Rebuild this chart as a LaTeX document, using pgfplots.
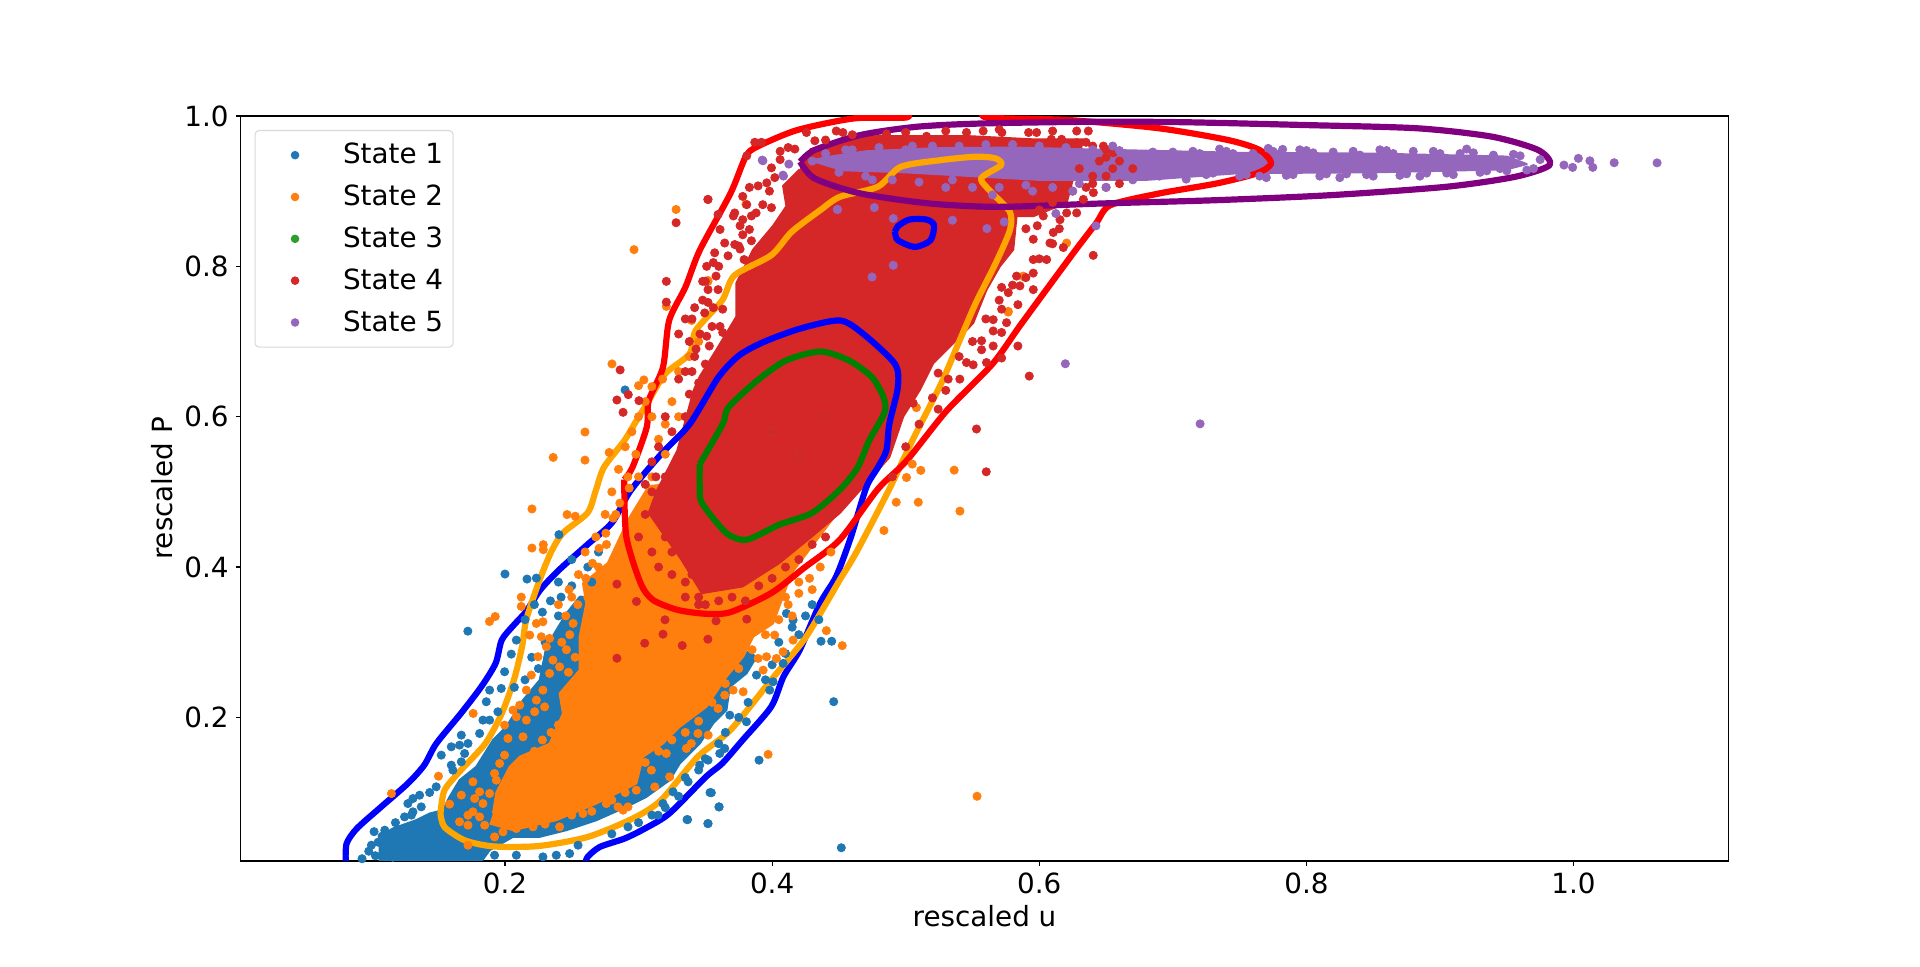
\documentclass[border=0pt]{standalone}
\usepackage{fontspec}
\setmainfont{DejaVu Sans}
\usepackage{pgfplots}
\pgfplotsset{compat=1.18}
\definecolor{st1}{HTML}{1F77B4}
\definecolor{st2}{HTML}{FF7F0E}
\definecolor{st3}{HTML}{2CA02C}
\definecolor{st4}{HTML}{D62728}
\definecolor{st5}{HTML}{9467BD}
\definecolor{cpurple}{HTML}{800080}
\definecolor{corange}{HTML}{FFA500}
\definecolor{cgreen}{HTML}{008000}
\pgfplotsset{
  pts/.style={only marks,mark=*,mark size=2.05pt,color=#1,mark options={fill=#1,draw=#1}},
  blob/.style={forget plot,no markers,draw=#1,fill=#1,line width=1pt,line join=round},
  cont/.style={forget plot,no markers,color=#1,line width=3.1pt,line join=round,smooth,tension=0.45},
}
\begin{document}
\begin{tikzpicture}
\path[use as bounding box] (0,0) rectangle (960pt,483.5pt);
\begin{axis}[
    at={(120.25pt,53pt)},
    anchor=south west,
    scale only axis,
    width=744pt,
    height=372.5pt,
    xmin=0.002, xmax=1.116,
    ymin=0.009, ymax=1.0,
    xtick={0.2,0.4,0.6,0.8,1.0},
    ytick={0.2,0.4,0.6,0.8,1.0},
    tick pos=left,
    tick align=outside,
    major tick length=2.4pt,
    every tick/.style={black,line width=0.55pt},
    axis line style={line width=0.55pt},
    /pgf/number format/assume math mode=true,
    /pgf/number format/fixed,
    /pgf/number format/fixed zerofill,
    /pgf/number format/precision=1,
    tick label style={font=\fontsize{13.9}{16}\selectfont},
    xlabel={rescaled u},
    ylabel={rescaled P},
    label style={font=\fontsize{13.9}{16}\selectfont},
    xlabel style={yshift=1pt},
    ylabel style={yshift=-1pt},
    legend cell align=left,
    legend style={at={(7pt,367pt)},anchor=north west,draw=black!15,
      line width=0.55pt,rounded corners=2pt,inner xsep=3pt,inner ysep=4.4pt,
      row sep=5.1pt,font=\fontsize{13.9}{16}\selectfont},
    legend image code/.code={\path[draw=none,fill=none] (-2pt,0pt) rectangle (37pt,0pt);
      \path[#1,rounded corners=0pt,mark size=1.85pt] plot coordinates {(15pt,0pt)};},
]
% scatter, one series per state
\addplot[blob=st1] coordinates {
(0.1061,0.005)(0.1061,0.041)(0.116,0.0522)(0.1336,0.0633)(0.1436,0.0721)(0.1535,0.0766)(0.1585,0.0943)(0.166,0.1165)(0.1785,0.1343)(0.191,0.1697)(0.201,0.1875)(0.2135,0.223)(0.226,0.2496)(0.231,0.294)(0.246,0.3383)(0.256,0.3605)(0.3,0.36)(0.3883,0.2807)(0.3808,0.2585)(0.3683,0.2407)(0.3658,0.2097)(0.3558,0.1919)(0.3458,0.1653)(0.3308,0.1387)(0.3233,0.1165)(0.3058,0.0943)(0.2909,0.081)(0.2684,0.0633)(0.246,0.05)(0.2259,0.0411)(0.206,0.0411)(0.1885,0.0234)(0.181,0.005)
};
\addplot[pts=st1] coordinates {
(0.1722,0.3147)(0.2,0.3907)(0.2165,0.384)(0.2235,0.3853)(0.2404,0.4431)(0.4461,0.2209)(0.3902,0.1431)(0.3519,0.0587)(0.3367,0.064)(0.3602,0.0809)(0.3535,0.1)(0.4366,0.3013)(0.4446,0.3013)(0.2899,0.6356)(0.4518,0.0266)
(0.093,0.012)(0.098,0.022)(0.103,0.016)(0.105,0.034)(0.108,0.042)(0.112,0.028)(0.116,0.014)(0.118,0.06)(0.124,0.05)(0.11,0.05)(0.102,0.048)(0.1,0.03)(0.12,0.025)(0.13,0.07)
(0.2085,0.3028)(0.2047,0.2842)(0.1997,0.2607)(0.1972,0.2385)(0.1885,0.2363)(0.186,0.2208)(0.1947,0.2075)(0.1885,0.1964)(0.1835,0.1964)(0.181,0.1786)(0.1673,0.1764)(0.1723,0.1653)(0.166,0.1631)(0.1598,0.1609)(0.1698,0.152)(0.1523,0.1498)(0.1673,0.1409)(0.1598,0.1365)(0.161,0.1298)(0.1485,0.1077)(0.1436,0.1001)(0.1361,0.0965)(0.1311,0.0921)(0.1273,0.0854)(0.1373,0.081)(0.1311,0.0744)(0.1248,0.0677)
(0.3545,0.0998)(0.3603,0.081)(0.3363,0.0641)(0.352,0.0588)(0.3608,0.152)(0.3645,0.1587)(0.352,0.1431)(0.3458,0.1365)(0.3371,0.1143)(0.3258,0.101)(0.3183,0.0854)(0.3146,0.0699)(0.2921,0.0544)(0.2547,0.03)(0.2484,0.0189)(0.2384,0.0167)(0.2284,0.0145)(0.2085,0.0167)(0.1922,0.0167)
(0.3808,0.1942)(0.3683,0.203)(0.3982,0.2363)(0.3883,0.2563)(0.4007,0.2474)(0.4082,0.2718)(0.4107,0.3383)(0.4157,0.3295)
(0.215,0.33)(0.222,0.35)(0.228,0.34)(0.234,0.355)(0.242,0.36)(0.25,0.375)(0.24,0.335)(0.23,0.30)(0.22,0.28)(0.215,0.25)(0.207,0.24)(0.225,0.265)(0.24,0.38)(0.262,0.40)(0.265,0.38)(0.25,0.41)(0.27,0.42)
(0.405,0.30)(0.41,0.285)(0.415,0.32)(0.42,0.31)(0.425,0.335)(0.43,0.35)(0.435,0.33)(0.4,0.27)(0.395,0.25)(0.382,0.22)(0.375,0.2)(0.365,0.18)(0.36,0.165)(0.35,0.145)(0.345,0.13)(0.335,0.12)(0.33,0.095)(0.32,0.08)(0.31,0.07)(0.3,0.06)(0.28,0.045)
};
\addlegendentry{State 1}
\addplot[blob=st2] coordinates {
(0.191,0.0721)(0.1935,0.1)(0.2035,0.1343)(0.211,0.1476)(0.2334,0.165)(0.2434,0.2052)(0.2409,0.2319)(0.2559,0.2629)(0.2559,0.3073)(0.2609,0.3516)(0.2584,0.3783)(0.277,0.4053)(0.2923,0.4631)(0.3076,0.5076)(0.3535,0.5164)(0.4299,0.4498)(0.4507,0.4764)(0.4146,0.392)(0.4007,0.325)(0.3858,0.3073)(0.3783,0.2807)(0.3658,0.254)(0.3508,0.2141)(0.3308,0.1875)(0.3183,0.1653)(0.3033,0.1476)(0.2983,0.1121)(0.2684,0.0854)(0.2384,0.0633)(0.206,0.05)(0.1885,0.0588)
};
\addplot[pts=st2] coordinates {
(0.3281,0.8756)(0.2966,0.8222)(0.2801,0.6702)(0.2599,0.5796)(0.2361,0.5458)(0.2599,0.5422)(0.278,0.5524)(0.3,0.6413)(0.304,0.6489)(0.3804,0.8827)(0.3519,0.7813)(0.3208,0.7467)(0.3397,0.728)
(0.2202,0.4773)(0.2202,0.4253)(0.2287,0.4298)(0.2287,0.4231)(0.1884,0.3276)(0.1927,0.3342)(0.2122,0.36)(0.2122,0.3476)(0.1762,0.2053)(0.1502,0.1218)(0.115,0.0987)(0.2465,0.4698)(0.2526,0.4676)(0.397,0.1508)
(0.5363,0.5289)(0.5767,0.7391)(0.5887,0.7858)(0.5049,0.5369)(0.5006,0.5191)(0.5534,0.0951)(0.5113,0.5286)(0.5406,0.4744)(0.5094,0.4862)(0.4929,0.4862)(0.4837,0.4486)(0.4525,0.2955)(0.4406,0.3154)
(0.6205,0.831)(0.5768,0.74)(0.588,0.787)(0.508,0.612)(0.352,0.78)
(0.2235,0.325)(0.2284,0.3272)(0.2185,0.3095)(0.2272,0.3073)(0.2334,0.3051)(0.231,0.294)(0.2247,0.2807)(0.2359,0.2762)(0.2409,0.2673)(0.2334,0.2585)(0.2197,0.2563)(0.2284,0.2363)(0.216,0.2363)(0.2235,0.223)(0.211,0.2163)(0.206,0.2097)(0.2085,0.2008)(0.216,0.1964)(0.2222,0.2075)(0.2297,0.2141)(0.1997,0.1897)(0.2022,0.172)(0.2135,0.1742)(0.1997,0.1498)(0.196,0.1387)(0.1922,0.1254)(0.1935,0.1165)(0.176,0.1143)(0.181,0.101)(0.1885,0.0988)(0.1673,0.0966)(0.1773,0.0921)(0.1585,0.0846)(0.1835,0.0854)(0.176,0.0744)(0.181,0.0677)(0.1723,0.0699)(0.166,0.0611)(0.1723,0.0566)(0.1848,0.0566)(0.1922,0.0411)(0.1985,0.0477)(0.1723,0.03)(0.2085,0.0522)(0.221,0.0544)(0.2409,0.0544)(0.2584,0.0721)(0.2759,0.0854)(0.2846,0.081)(0.2921,0.081)(0.2884,0.0766)(0.2983,0.1032)(0.3121,0.1076)(0.3096,0.1298)(0.3233,0.1209)(0.3208,0.152)(0.3358,0.1587)(0.3395,0.1653)(0.3445,0.1786)(0.3521,0.1764)(0.3595,0.2119)(0.3645,0.2296)(0.3708,0.2363)(0.3783,0.2341)(0.3933,0.2629)(0.3895,0.2784)(0.3958,0.2807)(0.4032,0.2784)(0.4082,0.2873)(0.4157,0.3028)(0.4019,0.3095)
(0.24,0.35)(0.248,0.37)(0.255,0.39)(0.26,0.42)(0.268,0.44)(0.275,0.47)(0.28,0.5)(0.285,0.53)(0.29,0.56)(0.295,0.58)(0.3,0.6)(0.305,0.62)(0.31,0.6)(0.298,0.55)(0.292,0.52)(0.283,0.47)(0.276,0.43)(0.27,0.4)(0.262,0.36)(0.415,0.335)(0.42,0.38)(0.43,0.37)(0.41,0.36)(0.31,0.64)(0.318,0.65)(0.325,0.62)(0.33,0.66)(0.338,0.68)(0.345,0.70)(0.33,0.6)(0.32,0.59)(0.315,0.57)(0.3,0.52)(0.31,0.52)(0.32,0.55)
(0.2475,0.19)(0.2525,0.205)(0.2455,0.225)(0.2515,0.245)(0.2475,0.26)(0.2525,0.28)(0.246,0.29)(0.2485,0.31)(0.2425,0.30)(0.251,0.325)(0.2455,0.335)(0.2545,0.35)(0.25,0.36)(0.2605,0.385)(0.2655,0.405)(0.2705,0.425)(0.2755,0.445)(0.281,0.465)(0.286,0.485)(0.293,0.505)(0.24,0.19)(0.2345,0.18)(0.228,0.17)(0.222,0.155)(0.215,0.14)(0.207,0.12)(0.2,0.10)(0.195,0.085)(0.2,0.065)(0.215,0.06)(0.23,0.058)(0.25,0.07)(0.265,0.075)(0.28,0.09)(0.29,0.10)(0.295,0.125)(0.305,0.14)(0.315,0.155)(0.325,0.17)(0.335,0.18)(0.345,0.195)(0.355,0.22)(0.365,0.245)(0.375,0.265)(0.385,0.29)(0.395,0.31)(0.405,0.33)(0.412,0.35)(0.42,0.365)(0.428,0.385)(0.436,0.4)(0.444,0.42)
};
\addlegendentry{State 2}
\addplot[pts=st3] coordinates {(0.42,0.55)(0.40,0.58)(0.44,0.60)};
\addlegendentry{State 3}
\addplot[blob=st4] coordinates {
(0.4207,0.929)(0.4082,0.907)(0.4107,0.88)(0.4007,0.8538)(0.3858,0.8222)(0.3733,0.7778)(0.3733,0.7333)(0.3583,0.689)(0.3458,0.6533)(0.3412,0.6347)(0.329,0.5547)(0.3137,0.5013)(0.3076,0.472)(0.3321,0.4098)(0.3474,0.3653)(0.3779,0.3742)(0.4054,0.4053)(0.4299,0.4409)(0.4507,0.472)(0.4877,0.5458)(0.4981,0.6)(0.5106,0.6356)(0.5206,0.6711)(0.5356,0.6978)(0.5505,0.7244)(0.5605,0.7689)(0.5705,0.8)(0.5805,0.8222)(0.583,0.8667)(0.5955,0.8667)(0.6205,0.8844)(0.633,0.9689)(0.5955,0.9689)(0.5455,0.9733)(0.4706,0.9733)(0.4282,0.9556)
};
\addplot[pts=st4] coordinates {
(0.42,0.55)(0.40,0.58)(0.44,0.60)
(0.3281,0.858)(0.3519,0.8889)(0.3208,0.78)(0.3208,0.7524)(0.2862,0.6622)(0.2923,0.6293)(0.2838,0.6222)(0.2884,0.6058)(0.3003,0.6213)
(0.352,0.889)(0.372,0.871)(0.3595,0.869)(0.381,0.882)(0.387,0.965)(0.392,0.965)(0.381,0.947)(0.383,0.905)(0.378,0.893)(0.3995,0.931)(0.406,0.953)(0.412,0.958)(0.406,0.942)(0.417,0.956)(0.402,0.918)(0.396,0.911)(0.3895,0.907)(0.398,0.9)(0.393,0.882)(0.388,0.871)(0.3995,0.878)(0.383,0.849)(0.376,0.854)(0.378,0.842)(0.371,0.867)(0.361,0.849)(0.3645,0.831)(0.357,0.818)(0.356,0.805)(0.351,0.8)(0.372,0.829)(0.367,0.814)(0.375,0.827)(0.348,0.78)(0.358,0.787)(0.352,0.769)(0.3595,0.769)(0.352,0.752)(0.356,0.745)(0.3495,0.738)(0.363,0.743)(0.355,0.72)(0.361,0.72)(0.351,0.707)(0.353,0.694)(0.363,0.712)(0.3845,0.867)(0.378,0.862)(0.376,0.823)(0.3845,0.834)(0.379,0.809)
(0.33,0.71)(0.335,0.73)(0.338,0.70)(0.342,0.745)(0.346,0.71)(0.342,0.68)(0.335,0.66)(0.33,0.65)(0.338,0.63)(0.32,0.6)(0.315,0.56)(0.31,0.54)(0.305,0.51)(0.31,0.5)(0.315,0.48)(0.32,0.46)(0.325,0.42)(0.32,0.44)(0.33,0.44)(0.335,0.38)(0.34,0.39)(0.345,0.36)(0.35,0.35)(0.36,0.355)(0.37,0.36)(0.38,0.355)(0.39,0.375)(0.4,0.385)(0.41,0.4)(0.42,0.41)(0.43,0.43)(0.44,0.44)
(0.34,0.73)(0.348,0.755)(0.35,0.78)(0.36,0.80)(0.343,0.69)(0.35,0.67)(0.34,0.66)(0.345,0.645)(0.335,0.60)(0.325,0.58)(0.32,0.52)(0.313,0.52)(0.305,0.47)(0.3,0.44)(0.31,0.42)(0.315,0.4)(0.325,0.39)(0.335,0.36)(0.345,0.35)
(0.2838,0.2787)(0.3046,0.2987)(0.3183,0.3107)(0.3327,0.2956)(0.3519,0.304)(0.2984,0.3542)(0.3198,0.3298)(0.358,0.3284)(0.381,0.3307)(0.2838,0.3773)
(0.5955,0.836)(0.608,0.831)(0.618,0.825)(0.5985,0.854)(0.6105,0.845)(0.5955,0.809)(0.6055,0.809)(0.5955,0.791)(0.583,0.787)(0.5718,0.772)(0.5768,0.765)(0.5855,0.774)(0.5955,0.769)(0.584,0.749)(0.5718,0.743)(0.5655,0.729)(0.5755,0.725)(0.5655,0.714)(0.5718,0.712)(0.5568,0.701)(0.5568,0.689)(0.5655,0.694)(0.5455,0.672)(0.5505,0.669)(0.5605,0.672)(0.5405,0.65)(0.5243,0.658)(0.5318,0.65)(0.5243,0.61)(0.5056,0.618)(0.5718,0.678)(0.6155,0.862)(0.6205,0.871)(0.628,0.871)(0.633,0.889)(0.6405,0.898)(0.603,0.867)
(0.49,0.52)(0.5,0.56)(0.51,0.59)(0.52,0.625)(0.53,0.635)(0.54,0.68)(0.55,0.7)(0.56,0.73)(0.57,0.755)(0.58,0.775)(0.59,0.785)(0.6,0.81)(0.61,0.83)(0.615,0.85)(0.59,0.85)(0.6,0.875)(0.61,0.885)(0.625,0.9)(0.64,0.91)(0.65,0.92)
(0.584,0.694)(0.6404,0.8146)(0.5925,0.654)(0.553,0.5836)(0.5603,0.5267)
(0.4257,0.978)(0.432,0.967)(0.448,0.98)(0.453,0.978)(0.478,0.969)(0.4856,0.976)(0.5156,0.973)(0.5455,0.978)(0.558,0.98)(0.572,0.978)(0.592,0.978)(0.598,0.978)(0.628,0.98)(0.6367,0.98)(0.628,0.9645)(0.6167,0.969)(0.609,0.969)(0.648,0.96)(0.6554,0.951)
(0.44,0.968)(0.46,0.975)(0.5,0.978)(0.53,0.98)(0.57,0.982)(0.61,0.98)(0.635,0.965)(0.65,0.945)
(0.64,0.96)(0.65,0.955)(0.66,0.94)(0.67,0.93)(0.66,0.91)(0.65,0.905)(0.64,0.92)(0.63,0.93)(0.655,0.93)(0.645,0.94)(0.635,0.905)
};
\addlegendentry{State 4}
\addplot[blob=st5] coordinates {
(0.4275,0.94)(0.44,0.945)(0.47,0.953)(0.52,0.957)(0.58,0.958)(0.65,0.955)(0.75,0.951)(0.85,0.95)(0.95,0.946)(0.965,0.936)(0.95,0.929)(0.85,0.925)(0.75,0.924)(0.68,0.915)(0.6,0.915)(0.55,0.92)(0.5,0.925)(0.45,0.928)
};
\addplot[pts=st5] coordinates {
(0.7204,0.5905)(0.6195,0.6704)(0.9928,0.9347)(0.9993,0.9316)(1.0036,0.9436)(1.0122,0.9404)(1.0144,0.9316)(1.0304,0.9378)(1.0625,0.9376)
(0.4748,0.7858)(0.4907,0.8013)(0.4765,0.8782)(0.4907,0.8636)(0.449,0.8756)(0.535,0.8613)(0.5608,0.8502)(0.5737,0.8591)(0.6424,0.8538)(0.6124,0.8702)(0.3931,0.9404)(0.4081,0.9213)(0.3926,0.9413)(0.4085,0.92)(0.4125,0.936)(0.4488,0.8756)(0.7714,0.9569)(0.7822,0.9556)
(0.43,0.94)(0.44,0.95)(0.45,0.925)(0.46,0.955)(0.47,0.92)(0.48,0.958)(0.49,0.915)(0.5,0.955)(0.51,0.912)(0.52,0.96)(0.53,0.905)(0.54,0.96)(0.55,0.905)(0.56,0.962)(0.57,0.905)(0.58,0.962)(0.59,0.908)(0.6,0.96)(0.61,0.905)(0.62,0.958)(0.63,0.91)(0.64,0.955)(0.65,0.905)(0.66,0.954)(0.67,0.915)(0.68,0.948)(0.69,0.92)(0.7,0.952)(0.71,0.916)(0.72,0.95)(0.73,0.924)(0.74,0.953)(0.75,0.92)(0.76,0.95)(0.77,0.918)(0.78,0.95)(0.79,0.922)(0.8,0.954)(0.81,0.92)(0.82,0.952)(0.83,0.923)(0.84,0.948)(0.85,0.92)(0.86,0.954)(0.87,0.921)(0.88,0.953)(0.89,0.924)(0.9,0.95)(0.91,0.922)(0.92,0.956)(0.93,0.925)(0.94,0.948)(0.95,0.927)(0.96,0.947)(0.97,0.93)
(0.455,0.955)(0.475,0.915)(0.505,0.96)(0.535,0.915)(0.565,0.895)(0.595,0.9)(0.625,0.9)(0.655,0.96)(0.685,0.952)(0.705,0.925)(0.735,0.956)(0.765,0.92)(0.795,0.955)(0.825,0.918)(0.855,0.955)(0.885,0.92)(0.915,0.95)(0.945,0.93)
(0.715,0.953)(0.725,0.922)(0.745,0.95)(0.755,0.922)(0.775,0.953)(0.785,0.921)(0.805,0.951)(0.815,0.923)(0.835,0.953)(0.845,0.922)(0.865,0.95)(0.875,0.923)(0.895,0.953)(0.905,0.924)(0.925,0.951)(0.935,0.927)(0.955,0.949)(0.965,0.928)(0.975,0.942)
};
\addlegendentry{State 5}
% contours
\addplot[cont=blue] coordinates {
(0.0808,0.005)(0.0814,0.032)(0.089,0.052)(0.1058,0.0787)(0.1272,0.112)(0.1395,0.1364)(0.1486,0.1653)(0.167,0.2053)(0.1823,0.2409)(0.193,0.272)(0.1976,0.303)(0.2067,0.323)(0.2159,0.341)(0.2266,0.37)(0.2404,0.396)(0.2618,0.43)(0.2801,0.459)(0.2939,0.5013)(0.3168,0.55)(0.3382,0.59)(0.3596,0.652)(0.3749,0.681)(0.3932,0.699)(0.4207,0.717)(0.4507,0.728)(0.4683,0.71)(0.492,0.67)(0.4941,0.639)(0.4877,0.59)(0.4855,0.555)(0.479,0.532)(0.4705,0.506)(0.459,0.44)(0.448,0.3876)(0.436,0.352)(0.4207,0.2898)(0.4085,0.2542)(0.3993,0.2142)(0.3779,0.1698)(0.3626,0.1387)(0.3504,0.1209)(0.3229,0.072)(0.3046,0.052)(0.2893,0.0387)(0.2709,0.0276)(0.2618,0.0142)(0.2602,0.005)
};
\addplot[cont=blue] coordinates {
(0.492,0.8458)(0.4941,0.8347)(0.507,0.8258)(0.5186,0.8347)(0.5212,0.8547)(0.5156,0.8622)(0.5027,0.8622)(0.4941,0.8533)(0.492,0.8458)
};
\addplot[cont=corange] coordinates {
(0.1517,0.072)(0.1547,0.0542)(0.17,0.0364)(0.1914,0.0284)(0.2251,0.0289)(0.2618,0.0409)(0.2954,0.0653)(0.3168,0.0898)(0.3443,0.1476)(0.3688,0.1831)(0.3993,0.2498)(0.4238,0.3031)(0.4391,0.3476)(0.4507,0.3831)(0.4635,0.421)(0.4877,0.5036)(0.5049,0.568)(0.5264,0.6436)(0.5393,0.6969)(0.5522,0.7502)(0.5672,0.8036)(0.578,0.848)(0.578,0.8724)(0.5651,0.8969)(0.5565,0.9169)(0.5715,0.9347)(0.5672,0.9436)(0.5522,0.9458)(0.5264,0.9413)(0.4963,0.9324)(0.4791,0.9058)(0.4507,0.8924)(0.436,0.8747)(0.4146,0.8458)(0.3993,0.8147)(0.3718,0.788)(0.3626,0.7547)(0.3428,0.7147)(0.3382,0.6836)(0.3198,0.6569)(0.3076,0.6213)(0.2969,0.5902)(0.2893,0.568)(0.274,0.5324)(0.2679,0.5013)(0.2618,0.472)(0.2434,0.4453)(0.2342,0.4187)(0.2251,0.3787)(0.2159,0.3298)(0.2128,0.2942)(0.2067,0.2498)(0.1976,0.2053)(0.1853,0.1653)(0.167,0.1298)(0.1547,0.1031)(0.1517,0.072)
};
\addplot[cont=cgreen] coordinates {
(0.3458,0.5369)(0.363,0.5902)(0.3673,0.6124)(0.3888,0.648)(0.4103,0.6747)(0.4361,0.6867)(0.4576,0.6747)(0.4748,0.6524)(0.4834,0.6258)(0.4842,0.6058)(0.4726,0.568)(0.464,0.5324)(0.4511,0.5036)(0.4299,0.472)(0.4054,0.4564)(0.381,0.4364)(0.3657,0.4453)(0.3474,0.4853)(0.3458,0.5076)(0.3458,0.5369)
};
\addplot[cont=red] coordinates {
(0.2893,0.5164)(0.2908,0.4409)(0.3015,0.3787)(0.3107,0.3564)(0.329,0.3431)(0.3504,0.3378)(0.3688,0.34)(0.3993,0.3653)(0.4238,0.3987)(0.4507,0.4364)(0.4791,0.5036)(0.5006,0.5413)(0.5307,0.608)(0.565,0.6702)(0.5866,0.7236)(0.6252,0.8169)(0.6424,0.8569)(0.6532,0.8813)(0.6897,0.8969)(0.7327,0.9102)(0.7628,0.9236)(0.7736,0.9369)(0.765,0.9547)(0.7413,0.968)(0.6897,0.9836)(0.621,0.9947)(0.5608,0.998)(0.555,1.01)(0.505,1.01)(0.5006,0.998)(0.4619,0.9969)(0.4189,0.9813)(0.3888,0.9591)(0.3802,0.9458)(0.3688,0.8969)(0.3458,0.8213)(0.3351,0.7724)(0.3229,0.728)(0.3183,0.6658)(0.3076,0.6213)(0.3061,0.5858)(0.2954,0.5324)(0.2893,0.5164)
};
\addplot[cont=cpurple] coordinates {
(0.421,0.9391)(0.4318,0.9169)(0.4662,0.8969)(0.5178,0.8836)(0.5694,0.8791)(0.6467,0.8836)(0.7327,0.888)(0.8187,0.8947)(0.9047,0.9058)(0.9563,0.9191)(0.9821,0.9347)(0.9735,0.9547)(0.9391,0.9724)(0.8832,0.9836)(0.7972,0.988)(0.7112,0.9916)(0.6467,0.9924)(0.5608,0.9902)(0.5092,0.9858)(0.4662,0.9747)(0.4318,0.9547)(0.421,0.9391)
};
\end{axis}
\end{tikzpicture}
\end{document}
